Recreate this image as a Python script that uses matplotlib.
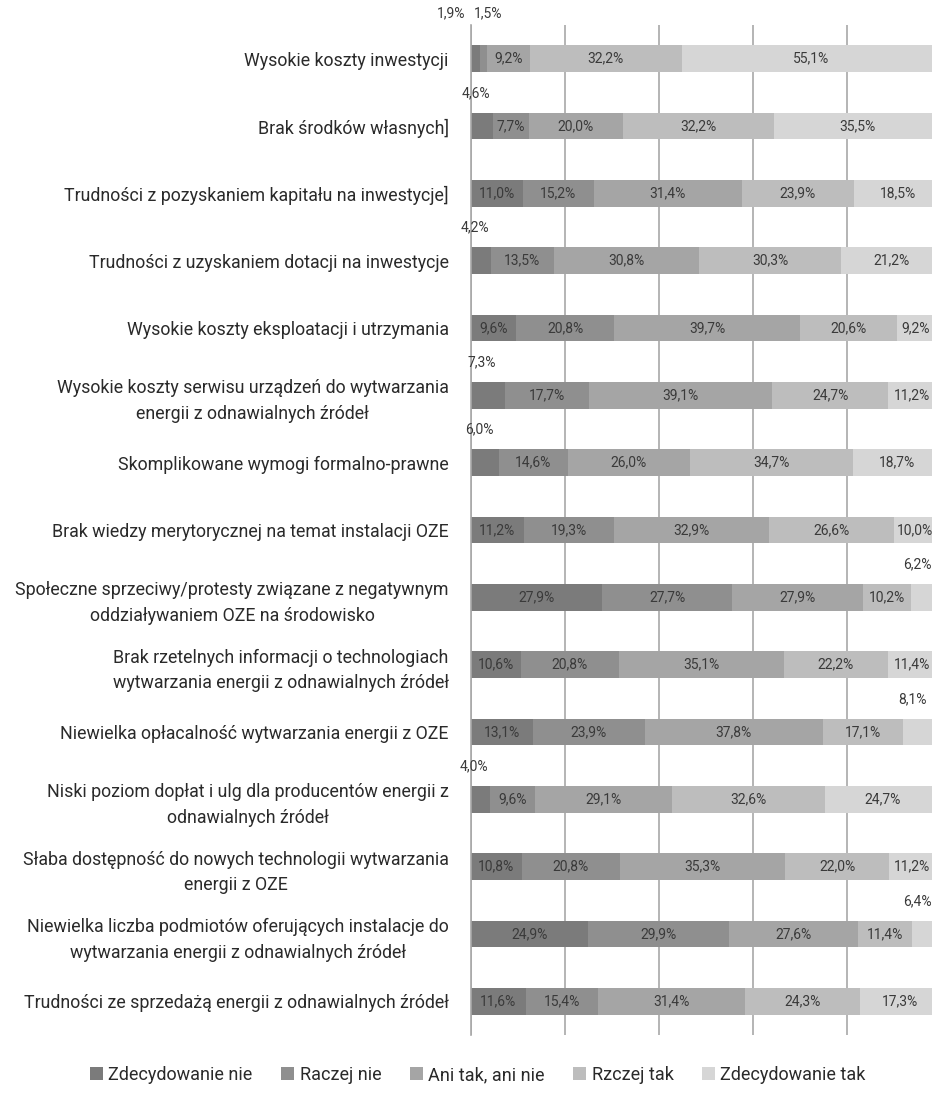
import matplotlib
matplotlib.use("Agg")
import matplotlib.pyplot as plt
from matplotlib.patches import Patch

plt.rcParams['font.family'] = ['Roboto', 'DejaVu Sans']

categories = [
    "Wysokie koszty inwestycji",
    "Brak środków własnych]",
    "Trudności z pozyskaniem kapitału na inwestycje]",
    "Trudności z uzyskaniem dotacji na inwestycje",
    "Wysokie koszty eksploatacji i utrzymania",
    "Wysokie koszty serwisu urządzeń do wytwarzania\nenergii z odnawialnych źródeł",
    "Skomplikowane wymogi formalno-prawne",
    "Brak wiedzy merytorycznej na temat instalacji OZE",
    "Społeczne sprzeciwy/protesty związane z negatywnym\noddziaływaniem OZE na środowisko",
    "Brak rzetelnych informacji o technologiach\nwytwarzania energii z odnawialnych źródeł",
    "Niewielka opłacalność wytwarzania energii z OZE",
    "Niski poziom dopłat i ulg dla producentów energii z\nodnawialnych źródeł",
    "Słaba dostępność do nowych technologii wytwarzania\nenergii z OZE",
    "Niewielka liczba podmiotów oferujących instalacje do\nwytwarzania energii z odnawialnych źródeł",
    "Trudności ze sprzedażą energii z odnawialnych źródeł",
]

series_names = ["Zdecydowanie nie", "Raczej nie", "Ani tak, ani nie", "Rzczej tak", "Zdecydowanie tak"]

zdecydowanie_nie = [1.9, 4.6, 11.0, 4.2, 9.6, 7.3, 6.0, 11.2, 27.9, 10.6, 13.1, 4.0, 10.8, 24.9, 11.6]
raczej_nie       = [1.5, 7.7, 15.2, 13.5, 20.8, 17.7, 14.6, 19.3, 27.7, 20.8, 23.9, 9.6, 20.8, 29.9, 15.4]
ani_tak_ani_nie  = [9.2, 20.0, 31.4, 30.8, 39.7, 39.1, 26.0, 32.9, 27.9, 35.1, 37.8, 29.1, 35.3, 27.6, 31.4]
rzczej_tak       = [32.2, 32.2, 23.9, 30.3, 20.6, 24.7, 34.7, 26.6, 10.2, 22.2, 17.1, 32.6, 22.0, 11.4, 24.3]
zdecydowanie_tak = [55.1, 35.5, 18.5, 21.2, 9.2, 11.2, 18.7, 10.0, 6.2, 11.4, 8.1, 24.7, 11.2, 6.4, 17.3]

series = [zdecydowanie_nie, raczej_nie, ani_tak_ani_nie, rzczej_tak, zdecydowanie_tak]
colors = ["#7b7b7b", "#8f8f8f", "#a5a5a5", "#bdbdbd", "#d6d6d6"]
grid_color = "#a8a8a8"
text_color = "#3a3a3a"
label_color = "#2a2a2a"

W, H = 932, 1095
fig = plt.figure(figsize=(W / 100, H / 100), dpi=100)
ax = fig.add_axes([471 / W, (H - 1035) / H, 470 / W, 1010 / H])

ypos = list(range(len(categories)))
left = [0.0] * len(categories)
for s_idx, (vals, col) in enumerate(zip(series, colors)):
    ax.barh(ypos, vals, left=left, height=0.4, color=col, edgecolor='none', zorder=2)
    for i, v in enumerate(vals):
        cx = left[i] + v / 2
        label = f"{v:.1f}%".replace('.', ',')
        outside = v < 8.5 and (s_idx in (0, 4) or v < 2)
        if not outside:
            dx = -3 if (s_idx == 4 and v < 12) else 0
            ax.annotate(label, xy=(cx, i), xytext=(dx, 0), textcoords='offset pixels',
                        ha='center', va='center', fontsize=10, color=text_color,
                        annotation_clip=False, zorder=3)
        else:
            if i == 0:
                dx = -24 if s_idx == 0 else 5
                dy = 45
            elif s_idx == 0:
                dx, dy = -6, 33
            else:
                dx, dy = -9, 33
            ax.annotate(label, xy=(cx, i), xytext=(dx, dy), textcoords='offset pixels',
                        ha='center', va='center', fontsize=10, color=text_color,
                        annotation_clip=False, zorder=3)
    left = [l + v for l, v in zip(left, vals)]

ax.set_xlim(0, 100)
ax.set_ylim(len(categories) - 0.5, -0.5)
ax.set_xticks([0, 20, 40, 60, 80, 100])
ax.xaxis.grid(True, color=grid_color, linewidth=1.2, zorder=0)
ax.set_axisbelow(True)
ax.tick_params(axis='x', bottom=False, labelbottom=False)
ax.set_yticks(ypos)
ax.set_yticklabels(categories, fontsize=12.8, color=label_color,
                   multialignment='center', linespacing=1.55)
ax.tick_params(axis='y', length=0, pad=16)
for side in ['top', 'right', 'bottom']:
    ax.spines[side].set_visible(False)
ax.spines['left'].set_color(grid_color)
ax.spines['left'].set_linewidth(1.2)

handles = [Patch(facecolor=c, edgecolor='none') for c in colors]
fig.legend(handles, series_names, loc='center', bbox_to_anchor=(478 / W, 1 - 1075 / H),
           ncol=5, frameon=False, fontsize=13, handlelength=0.7, handleheight=0.7,
           handletextpad=0.3, columnspacing=1.6, labelcolor=label_color)

fig.savefig("out.png", dpi=100)
